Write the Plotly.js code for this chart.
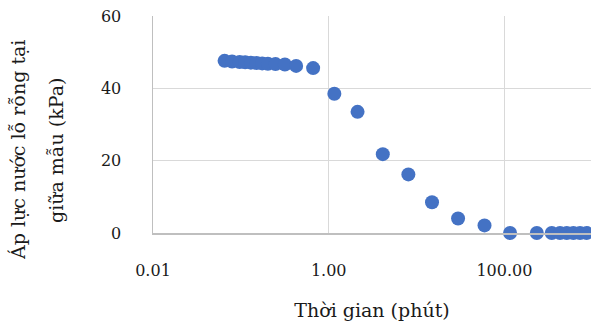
<!DOCTYPE html>
<html>
<head>
<meta charset="utf-8">
<script src="https://cdn.plot.ly/plotly-3.0.1.min.js"></script>
<style>html,body{margin:0;padding:0;background:#fff}#chart{width:591px;height:322px}</style>
</head>
<body>
<div id="chart"></div>
<script>
const timeMinutes = [0.0653, 0.0795, 0.0969, 0.112, 0.130, 0.151, 0.175, 0.203, 0.248, 0.317, 0.426, 0.665, 1.16, 2.13, 4.13, 8.07, 15.0, 29.7, 59.4, 116, 234, 346, 430, 513, 610, 726, 865];
const porePressure = [47.6, 47.4, 47.3, 47.2, 47.1, 47.0, 46.9, 46.8, 46.7, 46.6, 46.2, 45.6, 38.5, 33.5, 21.8, 16.2, 8.5, 4.0, 2.1, 0, 0, 0, 0, 0, 0, 0, 0];
const xTitle = 'Thời gian (phút)';
const yTitleLines = ['Áp lực nước lỗ rỗng tại', 'giữa mẫu (kPa)'];

const FONT = 'DejaVu Serif, serif';
const TXT = '#1a1a1a';

const trace = {
  x: timeMinutes,
  y: porePressure,
  type: 'scatter',
  mode: 'markers',
  marker: {color: '#4472C4', size: 14},
  cliponaxis: false,
  hoverinfo: 'x+y'
};

const layout = {
  width: 591, height: 322,
  margin: {l: 153, r: 0, t: 16, b: 89, pad: 0},
  paper_bgcolor: '#fff', plot_bgcolor: '#fff',
  showlegend: false,
  font: {family: FONT, color: TXT, size: 16},
  xaxis: {
    type: 'log',
    range: [-2, 2.986],
    dtick: 2,
    tickformat: '.2f',
    showgrid: true, gridcolor: '#d9d9d9', gridwidth: 1.5,
    showline: true, linecolor: '#bfbfbf', linewidth: 1.5,
    zeroline: false,
    ticks: '',
    ticklabelstandoff: 22,
    tickfont: {family: FONT, size: 16, color: TXT},
    title: {text: xTitle, font: {family: FONT, size: 19, color: TXT}, standoff: 25}
  },
  yaxis: {
    range: [0, 60],
    dtick: 20,
    showgrid: true, gridcolor: '#d9d9d9', gridwidth: 1.5,
    showline: true, linecolor: '#bfbfbf', linewidth: 1.5,
    zeroline: false,
    ticks: '',
    ticklabelstandoff: 27,
    tickfont: {family: FONT, size: 16, color: TXT}
  },
  annotations: [
    {text: yTitleLines[0], xref: 'paper', yref: 'paper', x: (18 - 153) / 438, y: (233 - 150) / 217, xanchor: 'center', yanchor: 'middle', textangle: -90, showarrow: false, font: {family: FONT, size: 19, color: TXT}},
    {text: yTitleLines[1], xref: 'paper', yref: 'paper', x: (56 - 153) / 438, y: (233 - 151) / 217, xanchor: 'center', yanchor: 'middle', textangle: -90, showarrow: false, font: {family: FONT, size: 19, color: TXT}}
  ]
};

Plotly.newPlot('chart', [trace], layout, {displayModeBar: false, staticPlot: true});
</script>
</body>
</html>
